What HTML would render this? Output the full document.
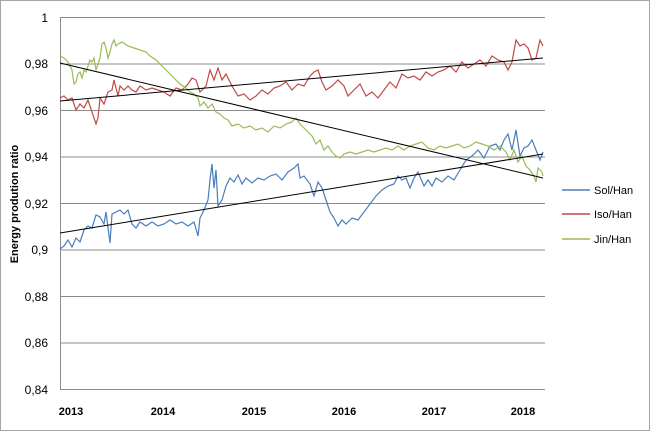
<!DOCTYPE html><html><head><style>body{margin:0;background:#fff}svg{display:block;font-family:"Liberation Sans",sans-serif}</style></head><body>
<svg width="650" height="431" viewBox="0 0 650 431">
<rect x="0.5" y="0.5" width="649" height="430" fill="#fff" stroke="#a6a6a6"/>
<g stroke="#8c8c8c" stroke-width="1">
<line x1="60" y1="17.5" x2="545" y2="17.5"/><line x1="60" y1="64" x2="545" y2="64"/><line x1="60" y1="110.5" x2="545" y2="110.5"/><line x1="60" y1="157" x2="545" y2="157"/><line x1="60" y1="203.5" x2="545" y2="203.5"/><line x1="60" y1="250" x2="545" y2="250"/><line x1="60" y1="296.5" x2="545" y2="296.5"/><line x1="60" y1="343" x2="545" y2="343"/><line x1="60" y1="389.5" x2="545" y2="389.5"/>
<line x1="60.5" y1="17" x2="60.5" y2="390"/></g>
<g font-size="12" text-anchor="end" fill="#000"><text x="48" y="22">1</text><text x="48" y="68">0,98</text><text x="48" y="115">0,96</text><text x="48" y="161">0,94</text><text x="48" y="208">0,92</text><text x="48" y="254">0,9</text><text x="48" y="301">0,88</text><text x="48" y="347">0,86</text><text x="48" y="394">0,84</text></g>
<g font-size="11" font-weight="bold" text-anchor="middle"><text x="71" y="415">2013</text><text x="163" y="415">2014</text><text x="254" y="415">2015</text><text x="344" y="415">2016</text><text x="434" y="415">2017</text><text x="523" y="415">2018</text></g>
<text transform="translate(18,204) rotate(-90)" font-size="11" font-weight="bold" text-anchor="middle">Energy prodution ratio</text>
<g fill="none" stroke-width="1.2">
<polyline stroke="#4a7ebb" points="60,249 64,246 68,240 72,247 76,238 80,242 84,230 88,226 92,228 96,215 100,217 104,224 106,212 110,243 112,214 116,212 120,210 124,214 128,210 132,224 136,228 140,222 146,226 152,222 158,226 164,224 170,220 176,224 182,222 188,226 194,222 198,236 200,218 204,210 208,200 210,180 212,164 214,188 216,170 218,206 222,200 226,186 230,178 234,182 238,175 242,184 246,178 252,183 258,178 264,180 270,176 276,174 282,180 288,172 294,168 298,164 300,178 304,176 310,184 314,196 318,182 322,188 326,200 330,212 334,218 338,226 342,220 346,224 352,218 358,220 364,212 370,204 376,196 382,190 388,186 394,184 398,176 402,180 406,178 410,188 414,178 418,172 424,186 428,180 432,186 436,178 442,182 448,176 454,180 460,170 466,160 472,156 478,150 484,158 490,146 496,144 500,150 504,140 508,134 512,150 516,130 520,156 524,148 528,146 532,140 536,150 540,160 543,152"/>
<polyline stroke="#be4b48" points="60,98 64,96 68,100 72,98 76,110 80,104 84,108 88,100 90,106 94,118 96,124 98,118 100,98 104,104 108,92 112,90 114,80 118,96 120,86 124,90 128,86 132,90 136,92 140,86 146,90 152,88 158,90 164,92 170,96 176,88 182,90 188,84 192,78 196,80 200,92 206,86 210,70 214,80 218,68 222,80 226,74 232,86 238,96 244,94 250,100 256,96 262,90 268,94 274,88 280,86 286,82 292,90 298,84 304,86 310,76 314,72 318,70 322,82 326,90 332,86 338,80 344,86 348,96 354,90 360,84 366,96 372,92 378,98 384,90 390,82 396,88 402,74 408,78 414,76 420,80 426,72 432,76 438,72 444,70 450,66 456,72 462,62 468,68 474,64 480,60 486,66 492,56 498,60 504,62 508,70 512,62 516,40 520,46 524,44 528,48 532,60 536,58 540,40 543,46"/>
<polyline stroke="#9bbb59" points="60,56 64,58 68,62 72,70 74,84 76,82 78,74 80,72 82,78 84,70 86,72 88,66 90,60 92,62 94,58 96,70 98,64 100,58 102,44 104,42 106,48 108,58 110,52 112,44 114,40 116,46 118,44 122,42 128,46 134,48 140,50 146,52 150,56 156,60 162,66 168,72 174,78 180,84 186,88 190,92 194,94 198,98 200,106 204,102 208,108 212,104 216,112 220,114 224,118 228,120 232,126 238,124 244,128 250,126 256,130 262,128 268,132 274,126 280,128 286,124 292,122 296,118 300,124 304,128 308,132 312,136 316,144 320,140 324,150 328,146 332,152 336,156 340,158 344,154 350,152 356,154 362,152 368,150 374,152 380,150 386,148 392,150 398,146 404,150 410,146 416,144 422,142 428,148 434,150 440,146 446,148 452,146 458,144 464,148 470,146 476,142 482,144 488,146 494,150 500,146 506,152 510,160 514,150 518,162 522,156 526,166 530,170 534,176 536,182 538,168 542,172 543,176"/>
<g stroke="#000" stroke-width="1"><line x1="60" y1="63" x2="543" y2="178"/><line x1="60" y1="101" x2="543" y2="58"/><line x1="60" y1="233" x2="543" y2="154"/></g>
</g>
<g font-size="11"><line x1="562" y1="190" x2="590" y2="190" stroke="#4a7ebb" stroke-width="1.5"/><text x="594" y="194">Sol/Han</text>
<line x1="562" y1="214" x2="590" y2="214" stroke="#be4b48" stroke-width="1.5"/><text x="594" y="218">Iso/Han</text>
<line x1="562" y1="239" x2="590" y2="239" stroke="#9bbb59" stroke-width="1.5"/><text x="594" y="243">Jin/Han</text></g>
</svg></body></html>
